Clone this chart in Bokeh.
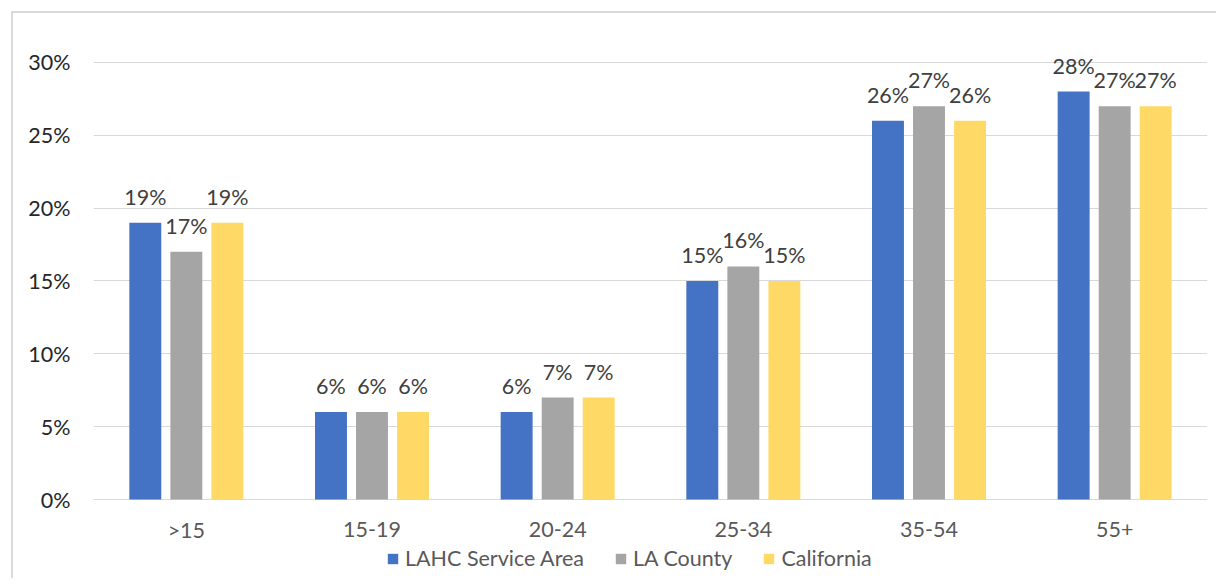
from bokeh.plotting import figure
from bokeh.models import ColumnDataSource, FactorRange, Range1d, FixedTicker, Legend, LegendItem
from bokeh.transform import dodge
from bokeh.core.properties import value
from bokeh.embed import file_html
from bokeh.resources import INLINE

categories = [">15", "15-19", "20-24", "25-34", "35-54", "55+"]
lahc = [19, 6, 6, 15, 26, 28]
la_county = [17, 6, 7, 16, 27, 27]
california = [19, 6, 7, 15, 26, 27]
series_names = ["LAHC Service Area", "LA County", "California"]
series_colors = ["#4472C4", "#A5A5A5", "#FFD966"]
y_ticks = [0, 5, 10, 15, 20, 25, 30]

FONT = "Lato"
FS = "21.5px"

src = ColumnDataSource(dict(
    cat=categories,
    zero=[0] * len(categories),
    s0=lahc, s1=la_county, s2=california,
    l0=[f"{v}%" for v in lahc],
    l1=[f"{v}%" for v in la_county],
    l2=[f"{v}%" for v in california],
))

p = figure(width=1205, height=567, x_range=FactorRange(*categories, range_padding=0),
           y_range=Range1d(-5.56, 31.99), output_backend="svg", toolbar_location=None,
           min_border_left=80, min_border_right=11, min_border_top=20, min_border_bottom=0)
p.styles = {"margin-left": "11px", "margin-top": "11px",
            "border-left": "2px solid #d9d9d9", "border-top": "2px solid #d9d9d9"}
p.outline_line_color = None
p.background_fill_color = "white"
p.border_fill_color = "white"

offsets = [-0.221, 0.0, 0.221]
renderers = []
for i in range(3):
    r = p.vbar(x=dodge("cat", offsets[i], range=p.x_range), top=f"s{i}", width=0.172,
               source=src, fill_color=series_colors[i], line_color=None)
    renderers.append(r)
    p.text(x=dodge("cat", offsets[i], range=p.x_range), y=f"s{i}", text=f"l{i}", source=src,
           text_align="center", text_baseline="middle", y_offset=-26,
           text_font=value(FONT), text_font_size=FS, text_color="#404040")

# category labels under the baseline
p.text(x="cat", y="zero", text="cat", source=src, text_align="center", text_baseline="middle",
       y_offset=30, text_font=value(FONT), text_font_size=FS, text_color="#595959")

p.xaxis.visible = False
p.xgrid.grid_line_color = None
p.ygrid.grid_line_color = "#d9d9d9"
p.ygrid.grid_line_width = 1.2
p.yaxis.ticker = FixedTicker(ticks=y_ticks)
p.yaxis.major_label_overrides = {t: f"{t}%" for t in y_ticks}
p.yaxis.axis_line_color = None
p.yaxis.major_tick_line_color = None
p.yaxis.minor_tick_line_color = None
p.yaxis.major_tick_out = 0
p.yaxis.major_tick_in = 0
p.yaxis.major_label_standoff = 23
p.yaxis.major_label_text_font = FONT
p.yaxis.major_label_text_font_size = FS
p.yaxis.major_label_text_color = "#262626"

legend = Legend(items=[LegendItem(label=series_names[i], renderers=[renderers[i]]) for i in range(3)],
                location=(293, 9), orientation="horizontal", padding=0, margin=0,
                spacing=30, glyph_width=13, glyph_height=13, label_standoff=6,
                border_line_color=None, background_fill_alpha=0,
                label_text_font=FONT, label_text_font_size=FS, label_text_color="#595959")
p.add_layout(legend, "center")

open("out.html", "w").write(file_html(p, INLINE))
